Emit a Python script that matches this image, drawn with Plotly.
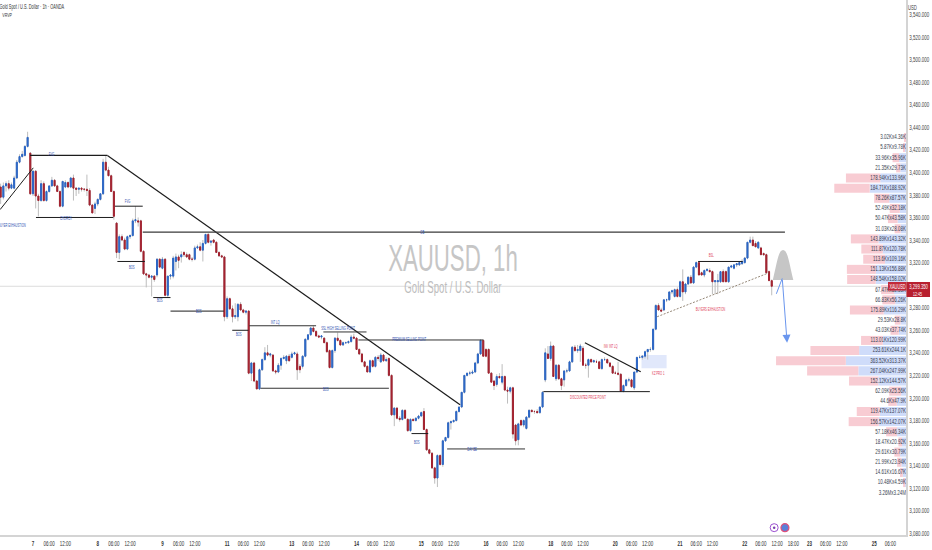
import plotly.graph_objects as go

first_hour = -12
opens = [
3387,3378,3388,3390,3386,3386,3395,3409,3414,3415,
3423,3417,3381,3401,3379,3375,3390,3375,3383,3388,
3393,3388,3383,3370,3387,3391,3387,3395,3386,3385,
3386,3385,3385,3384,3371,3368,3372,3376,3381,3409,
3402,3397,3383,3355,3329,3343,3340,3332,3343,3344,
3357,3357,3357,3330,3310,3309,3307,3308,3309,3323,
3315,3323,3291,3308,3308,3321,3325,3325,3329,3327,
3327,3323,3323,3333,3334,3331,3337,3345,3338,3340,
3338,3329,3326,3325,3272,3288,3279,3272,3272,3283,
3278,3276,3277,3222,3231,3215,3208,3225,3234,3240,
3238,3238,3224,3223,3229,3235,3233,3237,3236,3239,
3239,3228,3228,3237,3252,3256,3262,3259,3255,3254,
3253,3249,3242,3227,3242,3253,3251,3247,3249,3249,
3250,3254,3253,3243,3239,3232,3228,3223,3233,3228,
3236,3232,3238,3233,3235,3220,3185,3191,3182,3181,
3189,3181,3171,3181,3180,3182,3184,3188,3172,3154,
3151,3138,3129,3149,3141,3162,3165,3178,3179,3180,
3188,3192,3205,3220,3222,3222,3223,3231,3239,3251,
3243,3243,3222,3215,3212,3219,3214,3219,3207,3206,
3209,3176,3163,3180,3176,3173,3183,3189,3188,3188,
3187,3192,3216,3239,3235,3246,3217,3229,3217,3216,
3224,3224,3232,3245,3242,3242,3244,3229,3229,3234,
3232,3232,3232,3226,3234,3234,3231,3228,3222,3222,
3221,3206,3211,3216,3216,3209,3223,3236,3236,3237,
3241,3243,3243,3261,3282,3278,3278,3287,3287,3294,
3290,3296,3290,3303,3294,3301,3307,3302,3316,3320,
3311,3309,3313,3313,3312,3303,3303,3303,3312,3312,
3303,3316,3315,3318,3318,3319,3320,3324,3338,3340,
3337,3333,3333,3328,3327,3312,3304]
highs = [
3390,3391,3392,3393,3391,3397,3411,3416,3419,3424,
3436,3418,3402,3402,3381,3393,3392,3384,3388,3396,
3394,3389,3384,3392,3393,3392,3396,3398,3387,3386,
3387,3386,3398,3386,3372,3374,3377,3381,3412,3415,
3405,3398,3384,3356,3345,3345,3342,3344,3345,3359,
3370,3360,3358,3331,3311,3310,3309,3309,3324,3324,
3325,3324,3308,3309,3326,3328,3327,3330,3330,3329,
3328,3325,3335,3336,3338,3340,3345,3346,3340,3341,
3339,3330,3327,3326,3290,3289,3282,3284,3284,3285,
3279,3278,3278,3232,3232,3216,3226,3235,3245,3247,
3240,3239,3225,3231,3236,3238,3238,3239,3241,3241,
3241,3230,3238,3253,3256,3263,3264,3260,3256,3255,
3254,3250,3243,3243,3254,3258,3252,3250,3250,3251,
3256,3257,3254,3244,3240,3233,3229,3234,3234,3237,
3238,3240,3239,3236,3236,3221,3192,3192,3184,3190,
3190,3182,3182,3182,3183,3185,3188,3191,3173,3155,
3152,3139,3150,3150,3163,3165,3179,3180,3181,3189,
3192,3205,3220,3222,3224,3225,3232,3240,3252,3252,
3244,3244,3223,3216,3221,3222,3230,3220,3210,3210,
3210,3177,3178,3181,3181,3184,3190,3190,3189,3190,
3192,3206,3244,3246,3250,3247,3230,3230,3218,3224,
3226,3233,3246,3247,3247,3248,3246,3231,3235,3235,
3234,3234,3233,3235,3236,3235,3232,3229,3224,3232,
3222,3212,3217,3218,3217,3223,3236,3238,3238,3242,
3243,3245,3261,3283,3284,3280,3287,3288,3294,3296,
3297,3298,3304,3314,3302,3308,3309,3317,3321,3321,
3312,3314,3315,3315,3313,3304,3310,3312,3314,3313,
3316,3318,3318,3319,3320,3323,3325,3338,3343,3343,
3339,3339,3334,3329,3328,3313,3305]
lows = [
3372,3376,3383,3384,3385,3385,3394,3408,3413,3414,
3422,3380,3379,3368,3361,3374,3374,3374,3382,3387,
3387,3383,3369,3369,3386,3386,3386,3375,3379,3381,
3383,3383,3379,3370,3364,3363,3370,3375,3380,3401,
3397,3383,3358,3324,3323,3339,3331,3331,3341,3343,
3355,3352,3329,3309,3298,3306,3290,3303,3307,3315,
3314,3290,3289,3305,3306,3313,3315,3320,3325,3324,
3322,3321,3322,3332,3330,3321,3336,3337,3335,3337,
3329,3325,3324,3268,3270,3278,3267,3270,3268,3277,
3275,3274,3221,3215,3214,3208,3207,3224,3233,3237,
3236,3223,3221,3222,3225,3234,3230,3232,3235,3238,
3216,3222,3226,3236,3251,3255,3258,3254,3253,3252,
3249,3240,3226,3226,3240,3250,3246,3246,3248,3248,
3249,3252,3243,3238,3232,3227,3223,3222,3227,3227,
3233,3231,3232,3232,3219,3184,3175,3181,3179,3180,
3182,3170,3170,3179,3179,3181,3183,3172,3153,3150,
3137,3124,3121,3140,3139,3161,3164,3172,3178,3179,
3187,3191,3204,3219,3220,3221,3222,3230,3238,3237,
3236,3222,3214,3207,3210,3217,3212,3206,3195,3204,
3164,3158,3158,3175,3174,3172,3182,3187,3186,3186,
3186,3191,3214,3235,3233,3219,3215,3216,3207,3210,
3222,3223,3231,3241,3240,3232,3229,3226,3218,3231,
3231,3231,3226,3225,3233,3231,3227,3222,3221,3220,
3206,3205,3210,3214,3209,3207,3222,3235,3234,3235,
3234,3241,3242,3260,3278,3276,3277,3285,3286,3292,
3289,3289,3289,3286,3292,3300,3301,3301,3315,3309,
3309,3307,3312,3311,3292,3292,3292,3302,3303,3303,
3302,3315,3314,3316,3317,3318,3319,3323,3337,3335,
3334,3332,3327,3326,3311,3304,3291]
closes = [
3378,3388,3390,3386,3389,3395,3409,3414,3416,3423,
3431,3381,3401,3379,3375,3390,3375,3383,3388,3393,
3388,3383,3370,3392,3391,3387,3395,3386,3385,3386,
3385,3385,3384,3371,3364,3372,3376,3381,3409,3402,
3397,3383,3361,3329,3343,3340,3332,3343,3344,3357,
3358,3356,3330,3310,3309,3307,3308,3305,3323,3316,
3323,3291,3308,3309,3324,3325,3322,3327,3327,3325,
3323,3323,3333,3334,3331,3337,3345,3338,3339,3338,
3329,3326,3325,3272,3288,3279,3272,3273,3283,3278,
3276,3277,3222,3231,3215,3208,3225,3234,3240,3238,
3239,3224,3223,3229,3235,3236,3237,3233,3239,3240,
3225,3225,3237,3252,3256,3262,3259,3255,3254,3255,
3249,3241,3227,3242,3253,3251,3247,3249,3249,3250,
3254,3253,3243,3239,3232,3228,3223,3233,3228,3236,
3235,3238,3233,3234,3220,3185,3191,3182,3181,3189,
3182,3171,3181,3180,3182,3184,3187,3172,3154,3151,
3138,3129,3149,3141,3162,3165,3178,3179,3180,3188,
3192,3205,3220,3222,3222,3223,3231,3239,3251,3237,
3237,3222,3214,3211,3219,3218,3219,3207,3206,3209,
3168,3162,3177,3176,3180,3183,3189,3188,3188,3187,
3192,3205,3240,3235,3246,3219,3229,3217,3211,3224,
3224,3232,3245,3242,3243,3246,3229,3229,3234,3232,
3233,3232,3226,3234,3234,3231,3228,3222,3222,3221,
3206,3211,3216,3216,3210,3223,3236,3236,3237,3241,
3243,3243,3261,3282,3278,3277,3287,3287,3294,3295,
3296,3290,3303,3294,3301,3307,3302,3316,3320,3309,
3309,3313,3314,3312,3303,3304,3304,3312,3303,3303,
3316,3317,3318,3319,3320,3321,3324,3338,3340,3335,
3334,3338,3327,3327,3311,3304,3299]
hours = list(range(first_hour, first_hour + len(opens)))

profile_levels = [3431,3422,3413,3404,3395,3386,3377,3368,3359,3350,3341,3332,3323,3314,3305,3296,3287,3278,
                  3269,3260,3251,3242,3233,3224,3215,3206,3197,3188,3179,3170,3161,3152,3143,3134,3125,3116]
profile_first = [3.02,5.87,33.96,21.35,178.94,184.71,78.26,52.49,50.47,31.03,143.89,111.87,113.6,151.13,148.54,67.47,66.83,175.89,
                 29.53,43.03,113.01,253.61,363.52,267.04,152.12,62.09,44.6,119.47,156.57,57.18,18.47,29.61,21.99,14.61,10.48,0]
profile_second = [4.36,9.78,35.96,29.73,133.96,188.92,87.57,32.18,43.58,28.08,143.32,120.78,109.16,156.88,158.02,62.33,56.26,116.29,
                  28.8,37.74,120.99,244.1,313.37,247.99,144.57,25.56,47.9,137.07,142.07,46.34,20.92,30.79,23.94,16.67,4.59,0]
profile_text = ["3.02Kx4.36K","5.87Kx9.78K","33.96Kx35.96K","21.35Kx29.73K","178.94Kx133.96K","184.71Kx188.92K","78.26Kx87.57K",
                "52.49Kx32.18K","50.47Kx43.58K","31.03Kx28.08K","143.89Kx143.32K","111.87Kx120.78K","113.6Kx109.16K","151.13Kx156.88K",
                "148.54Kx158.02K","67.47Kx62.33K","66.83Kx56.26K","175.89Kx116.29K","29.53Kx28.8K","43.03Kx37.74K","113.01Kx120.99K",
                "253.61Kx244.1K","363.52Kx313.37K","267.04Kx247.99K","152.12Kx144.57K","62.09Kx25.56K","44.6Kx47.9K","119.47Kx137.07K",
                "156.57Kx142.07K","57.18Kx46.34K","18.47Kx20.92K","29.61Kx30.79K","21.99Kx23.94K","14.61Kx16.67K","10.48Kx4.59K","3.26Mx3.24M"]

x_tick_vals = [-12,0,6,12,24,30,36,48,54,60,72,78,84,96,102,108,120,126,132,144,150,156,168,174,180,192,198,204,
               216,222,228,240,246,252,264,270,276,282,288,294,300,312,318]
x_tick_text = ["12:00","<b>7</b>","06:00","12:00","<b>8</b>","06:00","12:00","<b>9</b>","06:00","12:00","<b>11</b>","06:00","12:00",
               "<b>13</b>","06:00","12:00","<b>14</b>","06:00","12:00","<b>15</b>","06:00","12:00","<b>16</b>","06:00","12:00",
               "<b>18</b>","06:00","12:00","<b>20</b>","06:00","12:00","<b>21</b>","06:00","12:00","<b>22</b>","06:00","12:00","18:00",
               "<b>23</b>","06:00","12:00","<b>25</b>","06:00"]
y_tick_vals = [3080,3100,3120,3140,3160,3180,3200,3220,3240,3260,3280,3300,3320,3340,3360,3380,3400,3420,3440,3460,3480,3500,3520,3540]

FONT = "Liberation Sans, Arial, sans-serif"
BLUE, RED, WICK = "#2b66c6", "#a3202e", "#bdbdbd"
BLACK, LBL_BLUE, LBL_RED = "#1c1c1c", "#2f4fb0", "#e0405a"

# hour0, price0, hour1, price1, colour, width, dash
trend_lines = [
    (-12.2,3367,0.1,3404,BLACK,1,"solid"), (-1.1,3415,27.6,3415,BLACK,1.2,"solid"), (27.6,3415,158.4,3194,BLACK,1.2,"solid"),
    (1.1,3360,29.8,3360,BLACK,1,"solid"), (30.4,3370,40.7,3370,BLACK,1,"solid"), (31.3,3321,41.5,3321,BLACK,1,"solid"),
    (40.7,3347,278.9,3347,"#3a3a3a",1.2,"solid"), (44.6,3289,51,3289,BLACK,1,"solid"), (51,3277,70.8,3277,BLACK,1,"solid"),
    (73.9,3260,79.9,3260,BLACK,1,"solid"), (80.2,3264,105,3264,"#333333",1,"solid"), (107.7,3258.5,123.7,3258.5,"#333333",1,"solid"),
    (120.7,3251.4,167,3251.4,"#333333",1,"solid"), (84.4,3208.6,132,3208.6,"#333333",1.2,"solid"), (140.4,3168.4,146.6,3168.4,BLACK,1,"solid"),
    (153.6,3154.8,182.5,3154.8,"#333333",1,"solid"), (189.3,3205.6,228.8,3205.6,BLACK,1,"solid"), (204.7,3249,225.4,3223.3,BLACK,1.2,"solid"),
    (231.5,3272,273,3311,"#7a6a55",0.8,"2px,1.5px"), (246.7,3321,263.2,3321,BLACK,1,"solid"),
]
# hour, price, text, colour
chart_labels = [
    (-7.9,3353,"BUYER EXHAUSTION",LBL_BLUE), (7,3416,"FVG",LBL_BLUE), (12.1,3358.7,"CHORCH",LBL_BLUE), (35.2,3374.6,"FVG",LBL_BLUE),
    (36.7,3315.5,"BOS",LBL_BLUE), (47.2,3286.2,"BOS",LBL_BLUE), (61.5,3276.5,"BOS",LBL_BLUE), (76.4,3256.4,"BOS",LBL_BLUE),
    (90,3266.8,"INT LQ",LBL_BLUE), (113.2,3262,"SSL HIGH SELLING POINT",LBL_BLUE), (139.8,3251.8,"PREMIUM SELLING POINT",LBL_BLUE),
    (108.5,3207.4,"BOS",LBL_BLUE), (142.5,3160.7,"BOS",LBL_BLUE), (163,3154,"DAY BE",LBL_BLUE), (144.5,3347,"OB",LBL_BLUE),
    (206,3200.3,"DISCOUNTED PRICE POINT",LBL_RED), (214.2,3245.8,"INV INT LQ",LBL_RED), (231.9,3221.9,"KZ PRO 1",LBL_RED),
    (251.8,3326.2,"BSL",LBL_RED), (251.4,3278.3,"BUYERS EXHAUSTION",LBL_RED),
]

fig = go.Figure()

# volume profile, on its own axis growing leftwards from the price scale
fig.add_trace(go.Bar(orientation="h", y=profile_levels, x=profile_second, width=8, marker=dict(color="#cfdcfa", line=dict(width=0)),
                     xaxis="x2", yaxis="y", hoverinfo="skip"))
fig.add_trace(go.Bar(orientation="h", y=profile_levels, x=profile_first, base=profile_second, width=8,
                     marker=dict(color="#f8ccd3", line=dict(width=0)), xaxis="x2", yaxis="y", hoverinfo="skip"))

# wicks
fig.add_trace(go.Candlestick(x=hours, open=opens, high=highs, low=lows, close=closes, whiskerwidth=0,
                             increasing=dict(line=dict(color=WICK, width=1), fillcolor=WICK),
                             decreasing=dict(line=dict(color=WICK, width=1), fillcolor=WICK), hoverinfo="skip"))
# bodies
body_high = [max(o, c) for o, c in zip(opens, closes)]
body_low = [min(o, c) for o, c in zip(opens, closes)]
fig.add_trace(go.Candlestick(x=hours, open=opens, high=body_high, low=body_low, close=closes, whiskerwidth=0,
                             increasing=dict(line=dict(color=BLUE, width=1), fillcolor=BLUE),
                             decreasing=dict(line=dict(color=RED, width=1), fillcolor=RED), hoverinfo="skip"))

fig.add_trace(go.Scatter(x=[0]*len(profile_levels), y=profile_levels, text=profile_text, mode="text", textposition="middle left",
                         textfont=dict(family=FONT, size=7.5, color="#3a3f52"), xaxis="x2", yaxis="y", hoverinfo="skip"))

# event icons near the time scale
fig.add_trace(go.Scatter(x=[274.9], y=[3085], mode="markers", marker=dict(size=8, color="white", line=dict(color="#9c4fd0", width=1)), hoverinfo="skip"))
fig.add_trace(go.Scatter(x=[274.9], y=[3085], mode="markers", marker=dict(size=2.5, color="#7b3fb0"), hoverinfo="skip"))
fig.add_trace(go.Scatter(x=[278.9], y=[3085], mode="markers", marker=dict(size=8, color="#5b7fd8", line=dict(color="#e0507a", width=1.2)), hoverinfo="skip"))

shapes = [
    dict(type="line", xref="x", yref="y", x0=-12.24, x1=323.8, y0=3299, y1=3299, line=dict(color="#dcdcdc", width=1), layer="below"),
    dict(type="rect", xref="x", yref="y", x0=225.7, x1=235, y0=3226.3, y1=3238.1, fillcolor="#e1e8fb", line=dict(width=0), layer="below"),
    dict(type="path", xref="x", yref="y", layer="above", fillcolor="#c6c6c6", line=dict(width=0),
         path="M 274.4 3304.6 C 275.8 3318, 276.4 3331.2, 278.2 3331.2 C 280 3331.2, 280.6 3318, 282 3304.6 Z"),
    dict(type="rect", xref="paper", yref="y", x0=906.5/906, x1=930/906, y0=3289.5, y1=3302.8, fillcolor="#b8202f", line=dict(width=0), layer="above"),
    dict(type="rect", xref="paper", yref="y", x0=888/906, x1=906.5/906, y0=3295.2, y1=3302.8, fillcolor="#c22a3a", line=dict(width=0), layer="above"),
]
for x0, y0, x1, y1, c, w, d in trend_lines:
    shapes.append(dict(type="line", xref="x", yref="y", x0=x0, y0=y0, x1=x1, y1=y1, line=dict(color=c, width=w, dash=d)))

anns = []
for x, y, t, c in chart_labels:
    anns.append(dict(x=x, y=y, xref="x", yref="y", text=t, showarrow=False, font=dict(family=FONT, size=4.5, color=c)))
anns += [
    dict(x=155.8, y=3324, xref="x", yref="y", text="XAUUSD, 1h", showarrow=False, font=dict(family=FONT, size=37, color="#c6c6c6")),
    dict(x=155.8, y=3298.3, xref="x", yref="y", text="Gold Spot / U.S. Dollar", showarrow=False, font=dict(family=FONT, size=16, color="#bdbdbd")),
    dict(x=32/906, y=1-7/535, xref="paper", yref="paper", xanchor="center", yanchor="middle", showarrow=False,
         text="Gold Spot / U.S. Dollar · 1h · OANDA", font=dict(family=FONT, size=6.5, color="#333333")),
    dict(x=7/906, y=1-15/535, xref="paper", yref="paper", xanchor="center", yanchor="middle", showarrow=False,
         text="VRVP", font=dict(family=FONT, size=6, color="#333333")),
    dict(x=913/906, y=1-8/535, xref="paper", yref="paper", xanchor="center", yanchor="middle", showarrow=False,
         text="USD", font=dict(family=FONT, size=7, color="#444444")),
    dict(x=918.5/906, y=3298.8, xref="paper", yref="y", xanchor="center", yanchor="middle", showarrow=False,
         text="3,299.350", font=dict(family=FONT, size=7, color="white")),
    dict(x=918.5/906, y=3292.4, xref="paper", yref="y", xanchor="center", yanchor="middle", showarrow=False,
         text="12:45", font=dict(family=FONT, size=6, color="white")),
    dict(x=897/906, y=3299, xref="paper", yref="y", xanchor="center", yanchor="middle", showarrow=False,
         text="XAUUSD", font=dict(family=FONT, size=6.5, color="white")),
    dict(x=277.9, y=3306, ax=275.5, ay=3291, xref="x", yref="y", axref="x", ayref="y", text="", showarrow=True,
         arrowhead=0, arrowwidth=1, arrowcolor="#6a96ee"),
    dict(x=279.7, y=3249, ax=277.9, ay=3306, xref="x", yref="y", axref="x", ayref="y", text="", showarrow=True,
         arrowhead=2, arrowsize=1.6, arrowwidth=1, arrowcolor="#6a96ee"),
]

fig.update_layout(
    width=932, height=550, margin=dict(l=0, r=26, t=0, b=15), paper_bgcolor="white", plot_bgcolor="white",
    showlegend=False, barmode="overlay", boxgap=0.45, boxmode="overlay", shapes=shapes, annotations=anns,
    xaxis=dict(range=[-12.24, 323.8], tickmode="array", tickvals=x_tick_vals, ticktext=x_tick_text, showgrid=False, zeroline=False,
               automargin=False, showline=True, linecolor="#d4d4d4", linewidth=1.5, ticks="", rangeslider=dict(visible=False),
               tickfont=dict(family=FONT, size=7.5, color="#333333"), tickangle=0),
    xaxis2=dict(range=[4719, 0], overlaying="x", visible=False, anchor="y"),
    yaxis=dict(range=[3078.5, 3552.8], side="right", tickmode="array", tickvals=y_tick_vals, tickformat=",.3f", showgrid=False, zeroline=False,
               automargin=False, showline=True, linecolor="#d4d4d4", linewidth=1.5, ticks="", tickfont=dict(family=FONT, size=7.5, color="#444444")),
)

# the page sits flush in the window; the reference's lettering is much narrower than any installed face
post = """
document.body.style.margin = '0';
document.querySelectorAll('.xtick text, .ytick text, .annotation-text, .textpoint text').forEach(function (t) {
  var w = t.getComputedTextLength();
  if (w > 0) { t.setAttribute('textLength', (w * 0.6).toFixed(1)); t.setAttribute('lengthAdjust', 'spacingAndGlyphs'); }
});
"""
fig.write_html("out.html", post_script=post, config=dict(displayModeBar=False))
